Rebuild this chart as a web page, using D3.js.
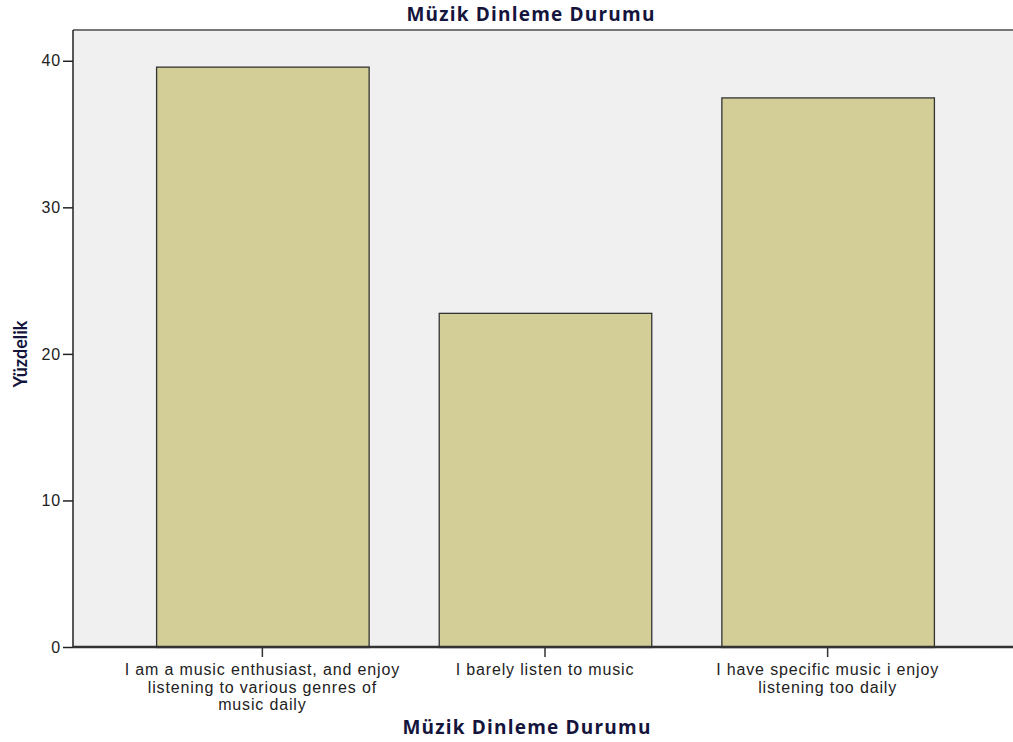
<!DOCTYPE html>
<html><head><meta charset="utf-8">
<script src="https://cdn.jsdelivr.net/npm/d3@7"></script>
<style>body{margin:0;background:#fff}svg{display:block}</style>
</head><body>
<svg id="c" width="1013" height="742"></svg>
<script>
const categories = [
  "I am a music enthusiast, and enjoy listening to various genres of music daily",
  "I barely listen to music",
  "I have specific music i enjoy listening too daily"
];
const categoryLines = [
  ["I am a music enthusiast, and enjoy", "listening to various genres of", "music daily"],
  ["I barely listen to music"],
  ["I have specific music i enjoy", "listening too daily"]
];
const values = [39.6, 22.8, 37.5];
const yTicks = [0, 10, 20, 30, 40];
const title = "Müzik Dinleme Durumu";
const xTitle = "Müzik Dinleme Durumu";
const yTitle = "Yüzdelik";

const svg = d3.select("#c");
const L = 73, R = 1017, T = 30, B = 647;
const x = d3.scaleBand().domain(categories).range([L, R]).paddingInner(0.248).paddingOuter(0.294);
const y = d3.scaleLinear().domain([0, 42.1]).range([B, T]);

svg.append("rect").attr("x", L).attr("y", T).attr("width", R - L).attr("height", B - T).attr("fill", "#f0f0f0");
svg.append("line").attr("x1", L).attr("x2", R).attr("y1", T).attr("y2", T).attr("stroke", "#777").attr("stroke-width", 2);

svg.selectAll("rect.bar").data(values).join("rect").attr("class", "bar")
  .attr("x", (d, i) => x(categories[i]) + 0.5)
  .attr("y", d => y(d) + 0.5)
  .attr("width", x.bandwidth())
  .attr("height", d => B - y(d))
  .attr("fill", "#d3ce97").attr("stroke", "#333").attr("stroke-width", 1.3);

const tickFont = "Liberation Sans, Arial, sans-serif";
// y axis
const ya = svg.append("g").attr("transform", `translate(${L},0)`)
  .call(d3.axisLeft(y).tickValues(yTicks).tickSize(10).tickPadding(2).tickFormat(d3.format("d")));
ya.select(".domain").attr("stroke", "#222").attr("stroke-width", 1.5).attr("d", `M0,${B}V${T}`);
ya.selectAll(".tick line").attr("stroke", "#222").attr("stroke-width", 1.5);
ya.selectAll(".tick text").attr("font-family", tickFont).attr("font-size", 16)
  .attr("letter-spacing", "0.9px").attr("fill", "#222");

// x axis
const xa = svg.append("g").attr("transform", `translate(0,${B})`)
  .call(d3.axisBottom(x).tickSize(10).tickFormat(""));
xa.select(".domain").attr("stroke", "#333").attr("stroke-width", 2.5).attr("d", `M${L},0H${R}`);
xa.selectAll(".tick line").attr("stroke", "#333").attr("stroke-width", 1.5);
xa.selectAll(".tick").each(function(d, i) {
  const t = d3.select(this).append("text")
    .attr("font-family", tickFont).attr("font-size", 16).attr("letter-spacing", "0.85px")
    .attr("fill", "#222").attr("text-anchor", "middle");
  categoryLines[i].forEach((ln, j) => {
    t.append("tspan").attr("x", 0).attr("y", 28 + j * 17.5).text(ln);
  });
});

const titleFont = "Open Sans, sans-serif";
svg.append("text").attr("x", 531).attr("y", 21).attr("text-anchor", "middle")
  .attr("font-family", titleFont).attr("font-weight", "bold").attr("font-size", 19)
  .attr("letter-spacing", "1.2px").attr("fill", "#14143c").text(title);
svg.append("text").attr("x", 527).attr("y", 734).attr("text-anchor", "middle")
  .attr("font-family", titleFont).attr("font-weight", "bold").attr("font-size", 19)
  .attr("letter-spacing", "1.2px").attr("fill", "#14143c").text(xTitle);
svg.append("text").attr("transform", "translate(27,354) rotate(-90)").attr("text-anchor", "middle")
  .attr("font-family", "Lato, sans-serif").attr("font-weight", "bold").attr("font-size", 18)
  .attr("fill", "#14143c").text(yTitle);
</script>
</body></html>
